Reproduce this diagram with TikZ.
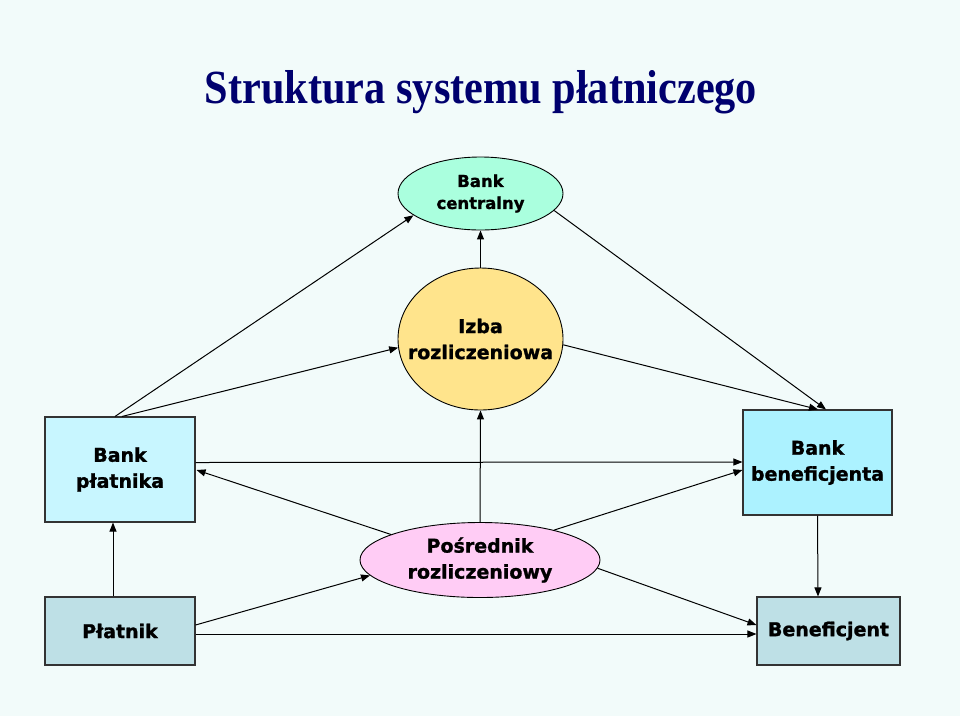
\documentclass[tikz,border=0pt]{standalone}
\usepackage{fontspec}
\usepackage{graphicx}
\setmainfont[BoldFeatures={FakeBold=1.2}]{DejaVu Sans}
\newfontfamily\titlefont{Liberation Serif}
\usetikzlibrary{shapes.geometric,arrows.meta}
\definecolor{bgc}{RGB}{242,251,250}
\definecolor{titlec}{RGB}{0,0,110}
\definecolor{mint}{RGB}{170,255,222}
\definecolor{izbac}{RGB}{255,228,140}
\definecolor{bpc}{RGB}{200,246,255}
\definecolor{bbc}{RGB}{172,242,255}
\definecolor{posc}{RGB}{255,204,245}
\definecolor{clientc}{RGB}{190,224,230}
\tikzset{
  ell/.style={ellipse, draw=black, line width=0.9pt, inner sep=0pt},
  txt/.style={align=center, inner sep=0pt, font=\bfseries\fontsize{19}{26}\selectfont},
  boxn/.style={rectangle, draw=black!80, line width=1.1pt, inner sep=0pt, align=center,
    font=\bfseries\fontsize{19}{26}\selectfont},
  arr/.style={draw=black, line width=1pt, -{Triangle[length=9pt,width=7pt]}}
}
\begin{document}
\begin{tikzpicture}[x=1pt,y=-1pt]
\fill[bgc] (0,0) rectangle (960,716);
\useasboundingbox (0,0) rectangle (960,716);
\node[anchor=base, text=titlec] (title) at (481,103)
  {\resizebox{552pt}{33pt}{\titlefont\bfseries Struktura systemu płatniczego}};
% nodes
\node[ell, fill=mint, minimum width=165pt, minimum height=73pt] (bc) at (480.5,193.5) {};
\node[txt, font=\bfseries\fontsize{16.5}{22}\selectfont] (bct) at (bc) {Bank\\centralny};
\node[ell, fill=izbac, minimum width=165pt, minimum height=142pt] (iz) at (480.5,339) {};
\node[txt] (izt) at (iz) {Izba\\rozliczeniowa};
\node[boxn, fill=bpc, minimum width=150pt, minimum height=105pt] (bp) at (120,469.5) {Bank\\płatnika};
\node[boxn, fill=bbc, minimum width=149pt, minimum height=105pt] (bb) at (817.5,462.5) {Bank\\beneficjenta};
\node[ell, fill=posc, minimum width=240pt, minimum height=75pt] (po) at (480,560) {};
\node[txt] (pot) at (po) {Pośrednik\\rozliczeniowy};
\node[boxn, fill=clientc, minimum width=150pt, minimum height=68pt] (pl) at (120,631) {Płatnik};
\node[boxn, fill=clientc, minimum width=143pt, minimum height=68pt] (be) at (828.5,631) {Beneficjent};
% connectors
\draw[arr] ([xshift=-5pt]bp.north) -- (bc.198);
\draw[arr] ([xshift=2pt]bp.north) -- (iz.186);
\draw[arr] (iz.north) -- (bc.south);
\draw[arr] (bc.-13) -- ([xshift=8.5pt]bb.north);
\draw[arr] (iz.-4.5) -- ([xshift=0.5pt]bb.north);
\draw[arr] ([yshift=7pt]bp.east) -- ([yshift=0.5pt]bb.west);
\draw[arr] (po.164) -- ([xshift=1pt,yshift=-0.5pt]bp.east);
\draw[arr] (po.north) -- (iz.south);
\draw[arr] (po.22.5) -- ([yshift=-7.5pt]bb.west);
\draw[arr] ([xshift=-7pt]pl.north) -- ([xshift=-7pt]bp.south);
\draw[arr] ([yshift=6pt]pl.east) -- (po.188);
\draw[arr] ([yshift=-3pt]pl.east) -- ([yshift=-3pt]be.west);
\draw[arr] (po.-4) -- ([yshift=6pt]be.west);
\draw[arr] (bb.south) -- ([xshift=-10.5pt]be.north);
\end{tikzpicture}
\end{document}
